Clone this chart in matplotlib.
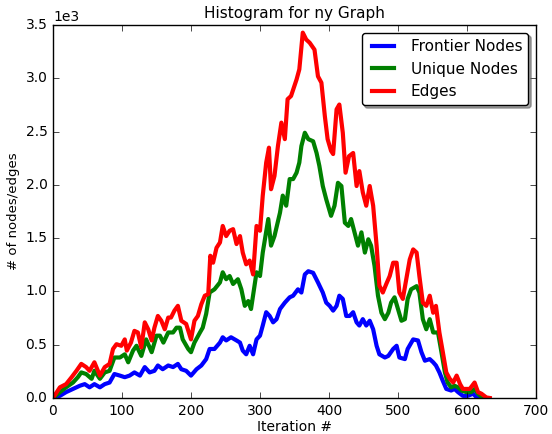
import matplotlib
matplotlib.use("Agg")
import matplotlib.pyplot as plt

plt.style.use("classic")

# iteration -> count
edges_x = [0, 10, 19, 27, 34, 41, 48, 53, 60, 68, 75, 82, 87, 92, 99, 104, 107, 113, 118, 123,
           128, 133, 138, 143, 147, 152, 157, 162, 167, 171, 176, 181, 186, 193, 200, 205, 210,
           215, 220, 225, 228, 232, 237, 242, 246, 251, 256, 261, 266, 271, 275, 280, 285, 290,
           295, 300, 304, 309, 313, 316, 321, 326, 331, 336, 340, 345, 353, 357, 362, 367, 372,
           379, 384, 389, 394, 398, 403, 406, 411, 415, 420, 424, 429, 435, 440, 444, 449, 454,
           459, 464, 469, 473, 478, 483, 488, 493, 498, 502, 507, 512, 517, 522, 527, 531, 536,
           541, 546, 551, 555, 560, 565, 570, 575, 580, 585, 590, 594, 599, 604, 611, 616, 621,
           628, 633]
edges_y = [0, 100, 130, 195, 255, 320, 290, 255, 335, 210, 290, 320, 460, 505, 490, 550, 445, 520,
           630, 615, 475, 710, 645, 540, 660, 770, 725, 645, 755, 755, 820, 865, 725, 695, 550,
           725, 770, 880, 960, 975, 1335, 1270, 1410, 1460, 1615, 1520, 1570, 1585, 1445, 1520,
           1365, 1255, 1290, 1160, 1615, 1570, 1900, 2210, 2350, 1960, 2085, 2365, 2585, 2430,
           2805, 2835, 2990, 3085, 3430, 3365, 3335, 3270, 3020, 2960, 2645, 2430, 2320, 2290,
           2710, 2755, 2490, 2115, 2270, 2300, 1990, 2130, 1930, 1805, 1990, 1805, 1430, 1055,
           990, 1070, 1145, 1270, 1270, 990, 930, 1115, 1300, 1395, 1365, 1145, 895, 865, 960,
           800, 865, 615, 430, 240, 180, 145, 210, 130, 85, 85, 85, 145, 55, 40, 5, 0]

unique_x = [0, 10, 19, 29, 36, 41, 48, 56, 60, 68, 75, 82, 89, 97, 104, 109, 116, 121, 128, 135,
            143, 150, 155, 160, 167, 174, 179, 184, 188, 196, 200, 205, 213, 217, 222, 227, 234,
            242, 246, 251, 256, 261, 268, 273, 278, 283, 287, 295, 300, 304, 312, 316, 321, 329,
            333, 338, 343, 348, 353, 357, 360, 365, 370, 377, 382, 386, 391, 396, 403, 408, 413,
            418, 423, 428, 432, 437, 442, 447, 452, 457, 461, 466, 471, 476, 481, 486, 490, 495,
            500, 505, 510, 514, 519, 527, 531, 536, 541, 546, 551, 558, 563, 568, 572, 577, 582,
            587, 592, 599, 606, 611, 616, 623, 628]
unique_y = [0, 55, 100, 145, 195, 240, 225, 180, 255, 180, 240, 255, 380, 380, 410, 335, 445, 490,
            395, 550, 430, 585, 585, 520, 615, 615, 660, 660, 550, 460, 430, 520, 615, 660, 790,
            990, 1020, 1085, 1180, 1115, 1145, 1070, 1115, 1020, 865, 910, 835, 1180, 1145, 1365,
            1680, 1430, 1520, 1740, 1900, 1805, 2055, 2055, 2115, 2210, 2365, 2490, 2430, 2410,
            2300, 2180, 1990, 1865, 1710, 1805, 2020, 1990, 1645, 1615, 1680, 1555, 1430, 1555,
            1365, 1490, 1430, 1240, 960, 800, 740, 800, 895, 945, 835, 725, 740, 930, 1020, 1050,
            990, 740, 645, 740, 615, 615, 430, 240, 145, 100, 115, 100, 70, 55, 55, 85, 40, 5, 0]

frontier_x = [0, 10, 19, 29, 39, 46, 53, 60, 68, 75, 82, 89, 97, 104, 111, 118, 126, 133, 140,
              147, 152, 159, 167, 174, 181, 186, 193, 200, 208, 215, 222, 227, 234, 242, 246, 251,
              258, 266, 271, 275, 280, 285, 290, 295, 300, 304, 309, 314, 319, 324, 329, 336, 343,
              348, 355, 360, 365, 370, 377, 384, 391, 396, 401, 406, 411, 415, 420, 425, 430, 435,
              440, 444, 449, 454, 459, 464, 469, 473, 481, 486, 493, 498, 502, 510, 514, 522, 529,
              534, 539, 546, 551, 555, 560, 565, 570, 577, 582, 587, 594, 601, 609, 614, 618]
frontier_y = [0, 20, 55, 85, 115, 130, 100, 130, 100, 130, 145, 225, 210, 195, 210, 240, 210, 290,
              240, 255, 305, 270, 305, 290, 320, 270, 255, 210, 270, 305, 365, 460, 460, 520, 570,
              540, 570, 540, 520, 445, 410, 490, 410, 550, 585, 680, 805, 770, 710, 740, 835, 895,
              945, 960, 1020, 990, 1160, 1190, 1175, 1085, 990, 895, 865, 820, 865, 960, 930, 770,
              770, 805, 710, 680, 740, 680, 725, 645, 490, 410, 380, 395, 460, 490, 380, 365, 460,
              550, 540, 430, 350, 365, 335, 305, 240, 160, 85, 70, 85, 55, 20, 20, 40, 5, 0]

fig = plt.figure(figsize=(5.52, 4.34), dpi=100, facecolor="white")
ax = fig.add_subplot(111)
fig.subplots_adjust(left=0.096, right=0.971, bottom=0.083, top=0.942)

ax.plot(frontier_x, frontier_y, color="b", lw=3, label="Frontier Nodes")
ax.plot(unique_x, unique_y, color="g", lw=3, label="Unique Nodes")
ax.plot(edges_x, edges_y, color="r", lw=3, label="Edges")

ax.set_xlim(0, 700)
ax.set_ylim(0, 3500)
ax.ticklabel_format(axis="y", style="sci", scilimits=(0, 0))
ax.set_title("Histogram for ny Graph", fontsize=11)
ax.set_xlabel("Iteration #", fontsize=10, labelpad=2)
ax.set_ylabel("# of nodes/edges", fontsize=9.5, labelpad=4)
ax.tick_params(labelsize=10)
ax.yaxis.get_offset_text().set_fontsize(10)
ax.legend(loc="upper right", fancybox=True, shadow=True, fontsize=11)

fig.savefig("out.png", dpi=100, facecolor="white")
